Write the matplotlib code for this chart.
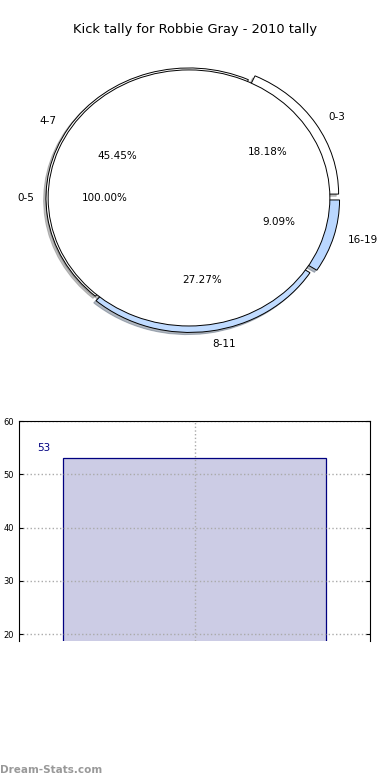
import matplotlib
matplotlib.use('Agg')
import matplotlib.pyplot as plt

# данные
title = 'Kick tally for Robbie Gray - 2010 tally'
outer_labels = ['0-3', '4-7', '8-11', '16-19']
outer_values = [2, 5, 3, 1]
outer_colors = ['white', 'white', '#c0dbff', '#bad7ff']
outer_explode = [0.055, 0.0, 0.035, 0.055]
inner_labels = ['0-5']
inner_values = [1]
bar_labels = ['2010']
bar_values = [53]

fig = plt.figure(figsize=(3.9, 7.8), dpi=100)

shadow = {'ox': -0.012, 'oy': -0.012, 'shade': 0.5}

# Круговая диаграмма
ax = fig.add_axes([0.0, 0.5513, 1.0, 0.3846])
ax.pie(outer_values, labels=outer_labels, colors=outer_colors, explode=outer_explode,
       autopct='%1.2f%%', startangle=0, shadow=shadow, radius=1.0,
       wedgeprops={'linewidth': 0.7, 'edgecolor': 'black'},
       textprops={'fontsize': 7.5})
ax.pie(inner_values, labels=inner_labels, colors=['white'], autopct='%1.2f%%',
       startangle=0, shadow=shadow, radius=0.985,
       wedgeprops={'linewidth': 0.7, 'edgecolor': 'black'},
       textprops={'fontsize': 7.5})
ax.set_aspect('auto')
ax.set_xlim(-189 / 143, 201 / 143)
ax.set_ylim(-1.152 * 132 / 130, 1.121 * 132 / 130)

fig.text(0.5, 1 - 30 / 780, title, ha='center', va='center', fontsize=9.4)

# Столбчатая диаграмма
bx = fig.add_axes([19 / 390, 0.1782, 351 / 390, 0.282])
bx.bar([0], bar_values, width=0.75, color='navy', alpha=0.2)
bx.bar([0], bar_values, width=0.75, fill=False, edgecolor='navy', linewidth=0.9)
for v in bar_values:
    bx.text(-0.43, v + 1.0, str(v), color='#000080', fontsize=7.5, ha='center', va='bottom')
bx.set_xlim(-0.5, 0.5)
bx.set_ylim(18.7, 60)
bx.set_yticks([20, 30, 40, 50, 60])
bx.set_xticks([0])
bx.set_xticklabels([''])
bx.tick_params(axis='y', labelsize=6, direction='in', length=3, right=True)
bx.tick_params(axis='x', length=0)
bx.grid(True, linestyle=':', color='#aaaaaa', linewidth=1)
bx.set_axisbelow(False)
for s in bx.spines.values():
    s.set_zorder(4)
bx.spines['bottom'].set_visible(False)

fig.text(0.0, 1 - 770 / 780, 'Dream-Stats.com', ha='left', va='center',
         fontsize=7.5, color='#999999', fontweight='bold')

fig.savefig('out.png', dpi=100)
